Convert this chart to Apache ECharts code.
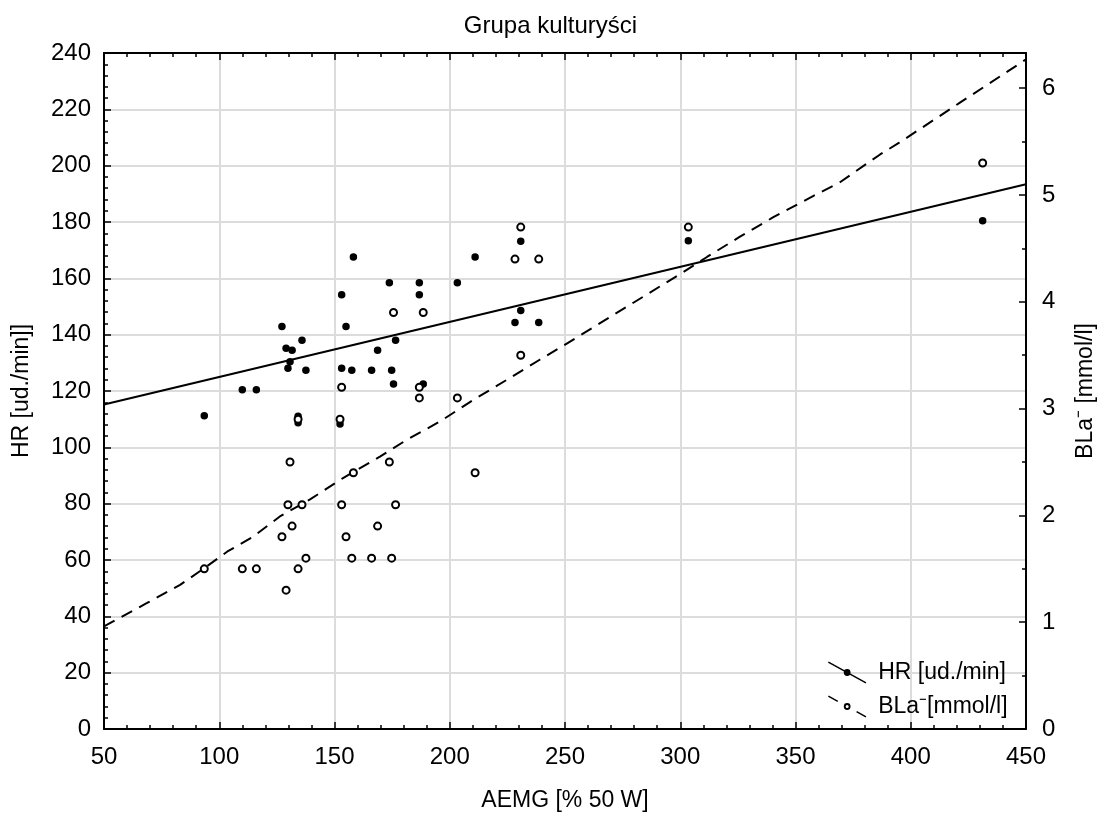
<!DOCTYPE html>
<html>
<head>
<meta charset="utf-8">
<script src="https://cdn.jsdelivr.net/npm/echarts@6/dist/echarts.min.js"></script>
<style>
  html, body { margin: 0; padding: 0; background: #fff; }
  #chart { width: 1101px; height: 814px; }
</style>
</head>
<body>
<div id="chart"></div>
<script>
// AEMG [% 50 W] for each subject
const aemg = [93.5, 110, 116.1, 127.2, 129, 129.8, 130.7, 131.6, 134.2, 134.2, 135.9, 137.6,
  152.4, 153.1, 153.1, 155, 157.5, 158.2, 166.1, 168.7, 173.8, 174.8, 175.6, 176.5,
  186.8, 186.8, 188.5, 203.3, 211, 228.3, 230.8, 230.8, 238.6, 303.5, 431.2];
// heart rate [ud./min]
const hr = [111.2, 120.4, 120.4, 142.9, 135.2, 128.1, 130.4, 134.5, 111, 108.7, 138, 127.4,
  108.3, 154.2, 128.1, 142.9, 127.4, 167.6, 127.4, 134.5, 158.4, 127.4, 122.5, 138,
  158.4, 154.2, 122.5, 158.4, 167.6, 144.3, 173.2, 148.6, 144.3, 173.3, 180.4];
// blood lactate [mmol/l]
const bla = [1.5, 1.5, 1.5, 1.8, 1.3, 2.1, 2.5, 1.9, 1.5, 2.9, 2.1, 1.6,
  2.9, 3.2, 2.1, 1.8, 1.6, 2.4, 1.6, 1.9, 2.5, 1.6, 3.9, 2.1,
  3.2, 3.1, 3.9, 3.1, 2.4, 4.4, 4.7, 3.5, 4.4, 4.7, 5.3];

// linear fit of HR against AEMG
const hrFitX = [50, 450];
const hrFitY = [115.2, 193.4];
// fitted curve of BLa against AEMG
const blaFitX = [50, 68.7, 83, 93.8, 103.4, 114.6, 126.3, 139.4, 153.7, 169.7, 181.5, 195.8,
  210.1, 224.8, 239.2, 247.8, 285.6, 299.9, 311.6, 325.9, 340.2, 357.6, 369.3, 386.7, 395, 421, 450];
const blaFitY = [0.96, 1.18, 1.35, 1.51, 1.66, 1.80, 1.99, 2.15, 2.35, 2.55, 2.71, 2.88,
  3.08, 3.27, 3.46, 3.57, 4.07, 4.26, 4.42, 4.61, 4.79, 4.99, 5.12, 5.38, 5.49, 5.86, 6.27];

const titleText = 'Grupa kulturyści';
const xName = 'AEMG [% 50 W]';
const hrName = 'HR [ud./min]]';
const blaName = 'BLa\u207B [mmol/l]';
const hrLegend = 'HR [ud./min]';
const blaLegend = 'BLa\u207B[mmol/l]';

const FONT = '"Liberation Sans", Arial, sans-serif';
const zip = (xs, ys) => xs.map((x, i) => [x, ys[i]]);

// legend icons: slanted line with a dot / slanted dashes with a ring
const iconSolid = 'path://M0.39,-0.7 L40.39,21.3 L39.61,22.7 L-0.39,0.7 Z ' +
  'M23.6,11 A3.6,3.6 0 1 1 16.4,11 A3.6,3.6 0 1 1 23.6,11 Z';
const iconDashed = 'path://M0.39,-0.7 L10.39,4.8 L9.61,6.2 L-0.39,0.7 Z ' +
  'M30.39,15.8 L40.39,21.3 L39.61,22.7 L29.61,17.2 Z ' +
  'M23.6,11 A3.6,3.6 0 1 1 16.4,11 A3.6,3.6 0 1 1 23.6,11 Z ' +
  'M21.6,11 A1.6,1.6 0 1 0 18.4,11 A1.6,1.6 0 1 0 21.6,11 Z';

const axisLine = { show: true, onZero: false, lineStyle: { color: '#000', width: 2 } };
const tick = { show: true, inside: true, length: 7, lineStyle: { color: '#000', width: 1.5 } };
const minor = (n) => ({ show: true, splitNumber: n, length: 4, lineStyle: { color: '#000', width: 1.5 } });
const grid = { show: true, lineStyle: { color: '#dcdcdc', width: 2 } };
const label = { color: '#000', fontSize: 24, fontFamily: FONT };
const nameStyle = { color: '#000', fontSize: 23, fontFamily: FONT };

const chart = echarts.init(document.getElementById('chart'), null, { renderer: 'canvas' });
chart.setOption({
  animation: false,
  backgroundColor: '#fff',
  title: {
    text: titleText, left: 'center', top: 9,
    textStyle: { color: '#000', fontSize: 24, fontWeight: 'normal', fontFamily: FONT }
  },
  grid: { left: 104, right: 75, top: 53, bottom: 85, containLabel: false, outerBoundsMode: 'none' },
  xAxis: [{
    type: 'value', min: 50, max: 450, interval: 50, position: 'bottom',
    name: xName, nameLocation: 'middle', nameGap: 60, nameMoveOverlap: false, nameTextStyle: nameStyle,
    axisLine: axisLine, axisTick: tick, minorTick: minor(5),
    axisLabel: Object.assign({ margin: 16 }, label),
    splitLine: grid
  }, {
    type: 'value', min: 50, max: 450, interval: 50, position: 'top',
    axisLine: axisLine, axisTick: tick, minorTick: minor(5),
    axisLabel: { show: false }, splitLine: { show: false }
  }],
  yAxis: [{
    type: 'value', min: 0, max: 240, interval: 20, position: 'left',
    name: hrName, nameLocation: 'middle', nameGap: 71, nameRotate: 90, nameMoveOverlap: false,
    nameTextStyle: nameStyle,
    axisLine: axisLine, axisTick: tick, minorTick: minor(5),
    axisLabel: Object.assign({ margin: 13 }, label),
    splitLine: grid
  }, {
    type: 'value', min: 0, max: 6.33, interval: 1, position: 'right',
    name: blaName, nameLocation: 'middle', nameGap: 48, nameRotate: 90, nameMoveOverlap: false,
    nameTextStyle: nameStyle,
    axisLine: axisLine, axisTick: tick, minorTick: minor(2),
    axisLabel: Object.assign({ margin: 16, formatter: v => (Number.isInteger(v) ? String(v) : '') }, label),
    splitLine: { show: false }
  }],
  legend: {
    orient: 'vertical', left: 823, top: 656, itemWidth: 40, itemHeight: 22, itemGap: 11,
    textStyle: { color: '#000', fontSize: 23, fontFamily: FONT, padding: [0, 0, 0, 6] },
    data: [
      { name: hrLegend, icon: iconSolid, itemStyle: { color: '#000', borderWidth: 0 } },
      { name: blaLegend, icon: iconDashed, itemStyle: { color: '#000', borderWidth: 0 } }
    ]
  },
  series: [{
    name: hrLegend + ' fit', type: 'line', xAxisIndex: 0, yAxisIndex: 0,
    data: zip(hrFitX, hrFitY), showSymbol: false, silent: true,
    lineStyle: { color: '#000', width: 2 }, z: 3
  }, {
    name: blaLegend + ' fit', type: 'line', xAxisIndex: 0, yAxisIndex: 1,
    data: zip(blaFitX, blaFitY), showSymbol: false, silent: true,
    lineStyle: { color: '#000', width: 2, type: [12, 8] }, z: 3
  }, {
    name: hrLegend, type: 'scatter', xAxisIndex: 0, yAxisIndex: 0,
    data: zip(aemg, hr), symbol: 'circle', symbolSize: 7.5,
    itemStyle: { color: '#000', opacity: 1 }, z: 4
  }, {
    name: blaLegend, type: 'scatter', xAxisIndex: 0, yAxisIndex: 1,
    data: zip(aemg, bla), symbol: 'circle', symbolSize: 7,
    itemStyle: { color: '#fff', borderColor: '#000', borderWidth: 2, opacity: 1 }, z: 5
  }]
});
</script>
</body>
</html>
